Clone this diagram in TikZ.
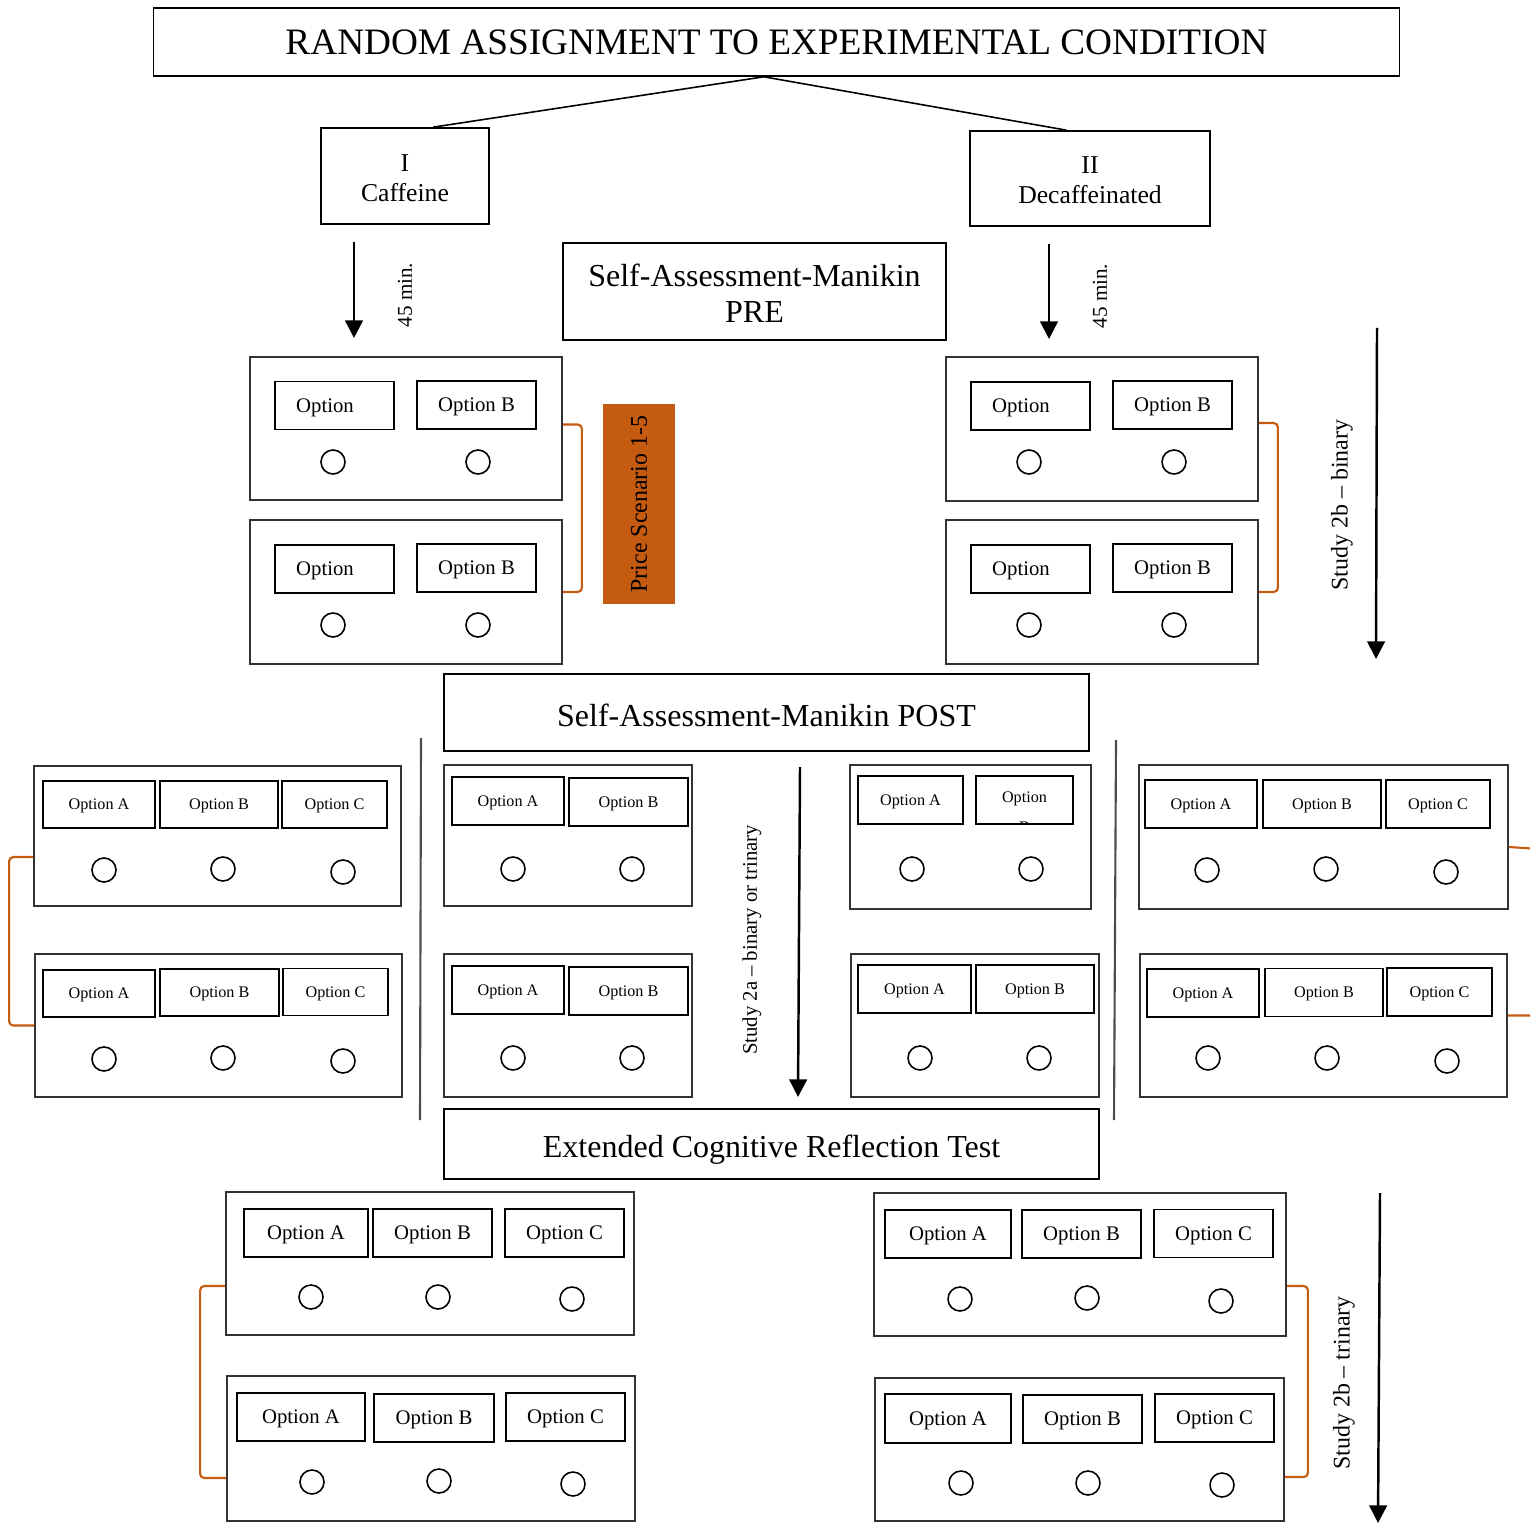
\documentclass[tikz,border=0pt]{standalone}
\usepackage{fontspec}
\setmainfont{Liberation Serif}
\usepackage{tikz}
\usetikzlibrary{arrows.meta}
\definecolor{rustorange}{HTML}{C55A11}
\newcommand{\fsz}[2]{\fontsize{#1}{#2}\selectfont}
\tikzset {
  % outer panel of one question
  panel/.style = {draw=black!80, line width=0.45pt, inner sep=0pt},
  % answer label boxes
  choice/.style = {draw, line width=0.45pt, inner sep=0pt, minimum height=4.8mm, text depth=0pt},
  smallopt/.style = {choice, font=\fsz{4.6}{5.5}},
  midopt/.style = {choice, font=\fsz{5.9}{7}},
  % radio buttons
  dot/.style = {draw, circle, minimum size=2.4mm, inner sep=0pt, line width=0.45pt},
  % headings
  heading/.style = {draw, line width=0.45pt, inner sep=0pt, align=center},
  bracket/.style = {draw=rustorange, line width=0.6pt, rounded corners=1.2pt},
  flow/.style = {-{Triangle[length=5pt,width=5pt]}, line width=0.7pt},
  sideways/.style = {rotate=90, inner sep=0pt},
  divider/.style = {draw=black!70, line width=0.6pt},
}
\begin{document}
\begin{tikzpicture}[x=0.01cm, y=-0.01cm]
      \clip (0,0) rectangle (1530,1537);

      \node[heading, minimum width=124.5mm, minimum height=6.8mm, font=\fsz{10.6}{12}] (title) at (776.5,42) {RANDOM ASSIGNMENT TO EXPERIMENTAL CONDITION};
      \node[heading, minimum width=16.8mm, minimum height=9.6mm, font=\fsz{7.3}{8.5}, text height=14.4pt] (caf) at (405,176) {I\\Caffeine};
      \node[heading, minimum width=24mm, minimum height=9.5mm, font=\fsz{7.3}{8.5}, text height=14.4pt] (dec) at (1090,178.5) {II\\Decaffeinated};
      \node[heading, minimum width=38.3mm, minimum height=9.7mm, font=\fsz{9.1}{10.2}, text height=17.5pt] (sampre) at (754.5,291.5) {Self-Assessment-Manikin\\PRE};
      \node[heading, minimum width=64.5mm, minimum height=7.7mm, font=\fsz{9.1}{10.2}, text height=7.7pt, text depth=0pt] (sampost) at (766.5,712.5) {Self-Assessment-Manikin POST};
      \node[heading, minimum width=65.5mm, minimum height=7mm, font=\fsz{9.1}{10.2}, text height=7.7pt, text depth=0pt] (crt) at (771.5,1144) {Extended Cognitive Reflection Test};
      \node[sideways, fill=rustorange, minimum width=20mm, minimum height=7.2mm, font=\fsz{6.8}{8}] (price) at (639,504) {Price Scenario 1-5};

      \draw [line width=0.45pt] (title.250) -- (caf.60);
      \draw [line width=0.45pt] (title.250) -- (dec.116);

      \coordinate (c1) at (354,242);
      \coordinate (c2) at (354,338);
      \coordinate (d1) at (1049,244);
      \coordinate (d2) at (1049,339);
      \draw [flow] (c1) -- (c2);
      \draw [flow] (d1) -- (d2);
      \node[sideways, font=\fsz{6}{7}] (cmin) at (405,295) {45 min.};
      \node[sideways, font=\fsz{6}{7}] (dmin) at (1100,296) {45 min.};

      \node[panel, minimum width=31.2mm, minimum height=14.3mm] (tl1) at (406,428.5) {};
      \node[midopt, minimum width=11.9mm] (tl1a) at (334.5,405.5) {Option\hspace*{1.9mm}};
      \node[midopt, minimum width=11.9mm] (tl1b) at (476.5,405) {Option B};
      \node[dot] (tl1x) at (333,462) {};
      \node[dot] (tl1y) at (478,462) {};
      \node[panel, minimum width=31.2mm, minimum height=14.4mm] (tl2) at (406,592) {};
      \node[midopt, minimum width=11.9mm] (tl2a) at (334.5,569) {Option\hspace*{1.9mm}};
      \node[midopt, minimum width=11.9mm] (tl2b) at (476.5,568) {Option B};
      \node[dot] (tl2x) at (333,625) {};
      \node[dot] (tl2y) at (478,625) {};

      \node[panel, minimum width=31.2mm, minimum height=14.4mm] (tr1) at (1102,429) {};
      \node[midopt, minimum width=11.9mm] (tr1a) at (1030.5,406) {Option\hspace*{1.9mm}};
      \node[midopt, minimum width=11.9mm] (tr1b) at (1172.5,405) {Option B};
      \node[dot] (tr1x) at (1029,462) {};
      \node[dot] (tr1y) at (1174,462) {};
      \node[panel, minimum width=31.2mm, minimum height=14.4mm] (tr2) at (1102,592) {};
      \node[midopt, minimum width=11.9mm] (tr2a) at (1030.5,569) {Option\hspace*{1.9mm}};
      \node[midopt, minimum width=11.9mm] (tr2b) at (1172.5,568) {Option B};
      \node[dot] (tr2x) at (1029,625) {};
      \node[dot] (tr2y) at (1174,625) {};

      \draw [bracket] ([yshift=0.4mm]tl1.east) -- ++(19,0) |- (tl2.east);
      \draw [bracket] ([yshift=0.6mm]tr1.east) -- ++(19,0) |- (tr2.east);

      \coordinate (s1) at (1377,328);
      \coordinate (s2) at (1376,659);
      \draw [flow] (s1) -- (s2);
      \node[sideways, font=\fsz{6.8}{8}] (sbin) at (1342,505) {Study 2b -- binary};

      \coordinate (v1) at (421,738);
      \coordinate (v2) at (420,1120);
      \coordinate (w1) at (1116,740);
      \coordinate (w2) at (1114,1120);
      \draw [divider] (v1) -- (v2);
      \draw [divider] (w1) -- (w2);

      \node[panel, minimum width=36.7mm, minimum height=14mm] (ml1) at (217.5,836) {};
      \node[smallopt, minimum width=11.2mm, minimum height=4.7mm] (ml1a) at (99,804.5) {Option A};
      \node[smallopt, minimum width=11.8mm, minimum height=4.7mm] (ml1b) at (219,804.5) {Option B};
      \node[smallopt, minimum width=10.5mm, minimum height=4.7mm] (ml1c) at (334.5,804.5) {Option C};
      \node[dot] (ml1x) at (104,870) {};
      \node[dot] (ml1y) at (223,869) {};
      \node[dot] (ml1z) at (343,872) {};
      \node[panel, minimum width=36.7mm, minimum height=14.3mm] (ml2) at (218.5,1025.5) {};
      \node[smallopt, minimum width=11.2mm, minimum height=4.7mm] (ml2a) at (99,993.5) {Option A};
      \node[smallopt, minimum width=11.9mm, minimum height=4.7mm] (ml2b) at (219.5,992.5) {Option B};
      \node[smallopt, minimum width=10.5mm, minimum height=4.7mm] (ml2c) at (335.5,992) {Option C};
      \node[dot] (ml2x) at (104,1059) {};
      \node[dot] (ml2y) at (223,1058) {};
      \node[dot] (ml2z) at (343,1061) {};

      \node[panel, minimum width=24.8mm, minimum height=14.1mm] (mb1) at (568,835.5) {};
      \node[smallopt, minimum width=11.2mm] (mb1a) at (508,801) {Option A};
      \node[smallopt, minimum width=11.9mm] (mb1b) at (628.5,802) {Option B};
      \node[dot] (mb1x) at (513,869) {};
      \node[dot] (mb1y) at (632,869) {};
      \node[panel, minimum width=24.8mm, minimum height=14.3mm] (mb2) at (568,1025.5) {};
      \node[smallopt, minimum width=11.2mm] (mb2a) at (508,990) {Option A};
      \node[smallopt, minimum width=11.9mm] (mb2b) at (628.5,991) {Option B};
      \node[dot] (mb2x) at (513,1058) {};
      \node[dot] (mb2y) at (632,1058) {};

      \coordinate (t1) at (800,767);
      \coordinate (t2) at (798,1097);
      \draw [flow] (t1) -- (t2);
      \node[sideways, font=\fsz{5.9}{7}] (sboth) at (752,940) {Study 2a -- binary or trinary};

      \node[panel, minimum width=24.1mm, minimum height=14.4mm] (mc1) at (970.5,837) {};
      \node[smallopt, minimum width=10.5mm] (mc1a) at (910.5,800) {Option A};
      \node[smallopt, minimum width=9.7mm] (mc1b) at (1024.5,800) {};
      \node[font=\fsz{4.6}{5.5}, inner sep=0pt, text depth=0pt] (mc1t) at (1024.5,797) {Option};
      \begin{scope}
        \clip ([shift={(0.3pt,0.3pt)}]mc1b.south west) rectangle (mc1b.north east);
        \node[font=\fsz{4.6}{5.5}, inner sep=0pt] (mc1bb) at (1024.5,827) {B};
      \end{scope}
      \node[dot] (mc1x) at (912,869) {};
      \node[dot] (mc1y) at (1031,869) {};
      \node[panel, minimum width=24.8mm, minimum height=14.3mm] (mc2) at (975,1025.5) {};
      \node[smallopt, minimum width=11.3mm] (mc2a) at (914.5,989) {Option A};
      \node[smallopt, minimum width=11.8mm] (mc2b) at (1035,989) {Option B};
      \node[dot] (mc2x) at (920,1058) {};
      \node[dot] (mc2y) at (1039,1058) {};

      \node[panel, minimum width=36.9mm, minimum height=14.4mm] (mr1) at (1323.5,837) {};
      \node[smallopt, minimum width=11.2mm] (mr1a) at (1201,804) {Option A};
      \node[smallopt, minimum width=11.8mm] (mr1b) at (1322,804) {Option B};
      \node[smallopt, minimum width=10.4mm] (mr1c) at (1438,804) {Option C};
      \node[dot] (mr1x) at (1207,870) {};
      \node[dot] (mr1y) at (1326,869) {};
      \node[dot] (mr1z) at (1446,872) {};
      \node[panel, minimum width=36.7mm, minimum height=14.3mm] (mr2) at (1323.5,1025.5) {};
      \node[smallopt, minimum width=11.2mm] (mr2a) at (1203,993) {Option A};
      \node[smallopt, minimum width=11.8mm] (mr2b) at (1324,992.5) {Option B};
      \node[smallopt, minimum width=10.5mm] (mr2c) at (1439.5,992) {Option C};
      \node[dot] (mr2x) at (1208,1058) {};
      \node[dot] (mr2y) at (1327,1058) {};
      \node[dot] (mr2z) at (1447,1061) {};

      \draw [bracket] ([yshift=-2.1mm]ml1.west) -- ++(-24,0) |- (ml2.west);
      \draw [bracket] ([yshift=-1mm]mr1.east) -- ++(30,2) |- ([yshift=1mm]mr2.east);

      \node[panel, minimum width=40.8mm, minimum height=14.3mm] (bl1) at (430,1263.5) {};
      \node[midopt, minimum width=12.4mm] (bl1a) at (306,1233) {Option A};
      \node[midopt, minimum width=11.9mm] (bl1b) at (432.5,1233) {Option B};
      \node[midopt, minimum width=11.9mm] (bl1c) at (564.5,1233) {Option C};
      \node[dot] (bl1x) at (311,1297) {};
      \node[dot] (bl1y) at (438,1297) {};
      \node[dot] (bl1z) at (572,1299) {};
      \node[panel, minimum width=40.8mm, minimum height=14.5mm] (bl2) at (431,1448.5) {};
      \node[midopt, minimum width=12.8mm] (bl2a) at (301,1417) {Option A};
      \node[midopt, minimum width=12mm] (bl2b) at (434,1418) {Option B};
      \node[midopt, minimum width=11.9mm] (bl2c) at (565.5,1417) {Option C};
      \node[dot] (bl2x) at (312,1482) {};
      \node[dot] (bl2y) at (439,1481) {};
      \node[dot] (bl2z) at (573,1484) {};

      \node[panel, minimum width=41.2mm, minimum height=14.3mm] (br1) at (1080,1264.5) {};
      \node[midopt, minimum width=12.6mm] (br1a) at (948,1234) {Option A};
      \node[midopt, minimum width=11.9mm] (br1b) at (1081.5,1234) {Option B};
      \node[midopt, minimum width=11.9mm] (br1c) at (1213.5,1233.5) {Option C};
      \node[dot] (br1x) at (960,1299) {};
      \node[dot] (br1y) at (1087,1298) {};
      \node[dot] (br1z) at (1221,1301) {};
      \node[panel, minimum width=40.9mm, minimum height=14.3mm] (br2) at (1079.5,1449.5) {};
      \node[midopt, minimum width=12.6mm, minimum height=4.9mm] (br2a) at (948,1418.5) {Option A};
      \node[midopt, minimum width=11.9mm] (br2b) at (1082.5,1419) {Option B};
      \node[midopt, minimum width=11.9mm] (br2c) at (1214.5,1418) {Option C};
      \node[dot] (br2x) at (961,1483) {};
      \node[dot] (br2y) at (1088,1483) {};
      \node[dot] (br2z) at (1222,1485) {};

      \draw [bracket] ([yshift=-2.25mm]bl1.west) -- ++(-25,0) |- ([yshift=-2.95mm]bl2.west);
      \draw [bracket] ([yshift=-2.15mm]br1.east) -- ++(21,0) |- ([yshift=-2.75mm]br2.east);

      \coordinate (u1) at (1380,1193);
      \coordinate (u2) at (1378,1523);
      \draw [flow] (u1) -- (u2);
      \node[sideways, font=\fsz{6.8}{8}] (stri) at (1344,1383) {Study 2b -- trinary};
\end{tikzpicture}
\end{document}
